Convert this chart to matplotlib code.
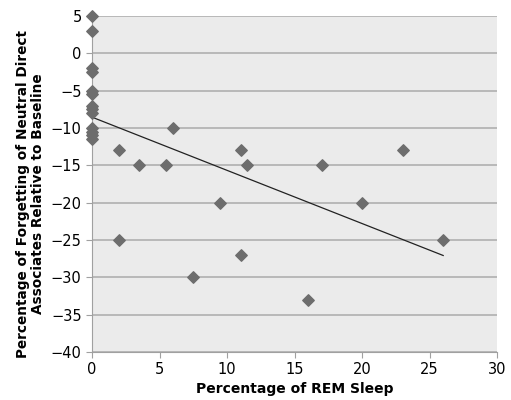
import numpy as np
import matplotlib.pyplot as plt

rem_sleep = [0, 0, 0, 0, 0, 0, 0, 0, 0, 0, 0, 0, 0,
             2, 3.5, 5.5, 6, 2, 7.5, 9.5, 11, 11.5, 11, 16, 17, 20, 23, 26]
forgetting = [5, 3, -2, -2.5, -5, -5.5, -7, -7.5, -8, -10, -10.5, -11, -11.5,
              -13, -15, -15, -10, -25, -30, -20, -13, -15, -27, -33, -15, -20, -13, -25]

x = np.array(rem_sleep)
y = np.array(forgetting)
slope, intercept = np.polyfit(x, y, 1)
xl = np.array([0, x.max()])

fig = plt.figure(figsize=(5.11, 4.0), dpi=100)
ax = fig.add_axes([0.180, 0.12, 0.793, 0.84])
ax.set_facecolor('#ebebeb')

ax.scatter(x, y, marker='D', s=34, color='#6d6d6d', zorder=3, clip_on=False)
ax.plot(xl, slope * xl + intercept, color='#222222', lw=0.9, zorder=2)

ax.set_xlim(0, 30)
ax.set_ylim(-40, 5)
ax.set_xticks(range(0, 31, 5))
ax.set_yticks(range(-40, 6, 5))
ax.yaxis.grid(True, color='#b0b0b0', lw=1.2)
ax.set_axisbelow(True)
for s in ['top', 'right']:
    ax.spines[s].set_visible(False)
for s in ['left', 'bottom']:
    ax.spines[s].set_color('#a0a0a0')
ax.tick_params(colors='#a0a0a0', labelcolor='black', labelsize=10.5, length=4)

ax.set_xlabel('Percentage of REM Sleep', fontsize=10, fontweight='bold', labelpad=3)
ax.set_ylabel('Percentage of Forgetting of Neutral Direct\nAssociates Relative to Baseline',
              fontsize=9.8, fontweight='bold', linespacing=1.15)
ax.yaxis.set_label_coords(-0.115, 0.47)

fig.savefig('out.png', dpi=100)
